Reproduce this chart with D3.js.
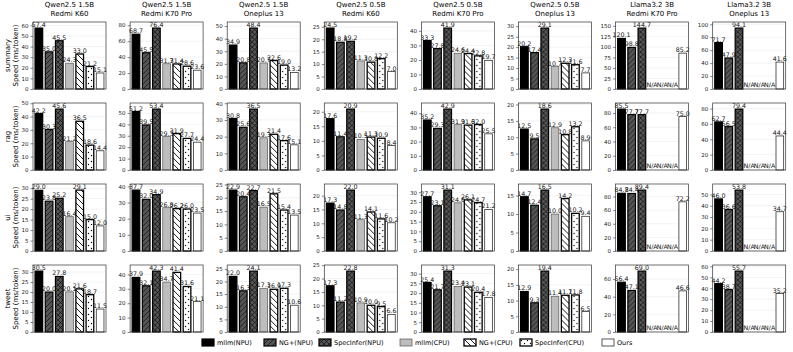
<!DOCTYPE html>
<html>
<head>
<meta charset="utf-8">
<script src="https://cdn.jsdelivr.net/npm/d3@7"></script>
<style>
  body { margin: 0; background: #fff; }
  svg { font-family: 'DejaVu Sans', sans-serif; }
</style>
</head>
<body>
<svg id="svg" width="793" height="352"></svg>
<script>
// data
const methods = ['mllm(NPU)', 'NG+(NPU)', 'SpecInfer(NPU)', 'mllm(CPU)', 'NG+(CPU)', 'SpecInfer(CPU)', 'Ours'];
const tasks = ['summary', 'rag', 'ui', 'tweet'];
const models = ['Qwen2.5 1.5B', 'Qwen2.5 1.5B', 'Qwen2.5 1.5B', 'Qwen2.5 0.5B', 'Qwen2.5 0.5B', 'Qwen2.5 0.5B', 'Llama3.2 3B', 'Llama3.2 3B'];
const devices = ['Redmi K60', 'Redmi K70 Pro', 'Oneplus 13', 'Redmi K60', 'Redmi K70 Pro', 'Oneplus 13', 'Redmi K70 Pro', 'Oneplus 13'];

const summarySpeed = [
  [57.4, 35.0, 45.5, 24.3, 33.0, 21.2, 15.1],
  [68.7, 45.5, 76.4, 31.7, 31.4, 28.6, 23.6],
  [34.9, 20.8, 48.4, 20.7, 22.6, 19.0, 13.2],
  [24.5, 18.8, 19.2, 11.3, 10.8, 12.2, 7.0],
  [33.3, 27.8, 41.9, 24.6, 24.4, 22.8, 19.7],
  [20.2, 17.4, 29.1, 10.7, 12.3, 11.6, 7.7],
  [120.1, 98.8, 144.7, null, null, null, 85.2],
  [71.7, 47.9, 94.1, null, null, null, 41.6]
];
const ragSpeed = [
  [42.2, 30.3, 45.6, 21.2, 36.5, 18.6, 14.4],
  [51.2, 39.5, 53.4, 29.3, 31.9, 27.7, 24.4],
  [30.8, 25.6, 36.5, 19.3, 21.4, 17.6, 15.1],
  [17.6, 11.4, 20.9, 10.5, 11.3, 10.9, 8.4],
  [35.2, 29.3, 42.9, 31.9, 31.6, 32.0, 25.5],
  [12.5, 9.5, 18.6, 12.9, 10.8, 13.2, 8.9],
  [85.5, 77.7, 77.7, null, null, null, 75.0],
  [62.7, 56.5, 79.4, null, null, null, 44.4]
];
const uiSpeed = [
  [29.0, 23.8, 25.2, 16.4, 29.1, 15.0, 12.0],
  [37.7, 32.0, 34.9, 26.8, 26.2, 26.0, 23.5],
  [22.9, 20.4, 22.7, 16.5, 21.5, 15.4, 13.5],
  [17.3, 14.8, 22.0, 11.3, 14.1, 11.6, 10.2],
  [27.7, 23.1, 31.1, 24.6, 26.1, 24.7, 21.2],
  [14.7, 12.4, 16.5, 10.0, 14.2, 10.2, 9.4],
  [84.7, 84.4, 89.4, null, null, null, 72.2],
  [46.0, 36.6, 53.8, null, null, null, 34.7]
];
const tweetSpeed = [
  [30.5, 20.0, 27.8, 20.1, 21.6, 18.7, 11.5],
  [37.9, 32.1, 42.3, 34.7, 41.4, 31.6, 21.1],
  [22.0, 16.3, 24.1, 17.3, 16.9, 17.3, 10.6],
  [17.3, 11.2, 22.8, 10.9, 10.0, 9.5, 6.6],
  [25.4, 21.7, 31.3, 23.4, 23.1, 20.4, 17.8],
  [12.9, 9.3, 19.4, 11.4, 11.7, 11.8, 6.5],
  [56.4, 47.1, 69.0, null, null, null, 46.6],
  [44.2, 38.7, 55.7, null, null, null, 35.2]
];

// y tick step of each panel
const summaryTickStep = [10, 20, 10, 5, 10, 5, 25, 20];
const ragTickStep = [10, 10, 10, 5, 10, 5, 20, 20];
const uiTickStep = [5, 10, 5, 5, 5, 5, 20, 10];
const tweetTickStep = [5, 10, 5, 5, 5, 5, 20, 10];

const speeds = [summarySpeed, ragSpeed, uiSpeed, tweetSpeed];
const tickSteps = [summaryTickStep, ragTickStep, uiTickStep, tweetTickStep];

const config = {
  left: 33,
  colStep: 97.1,
  panelWidth: 73,
  top: 22,
  rowStep: 81,
  panelHeight: 67
};

const svg = d3.select('#svg');
const defs = svg.append('defs');

// hatch patterns
function hatch(id, bg, draw, size) {
  const p = defs.append('pattern')
    .attr('id', id)
    .attr('patternUnits', 'userSpaceOnUse')
    .attr('width', size).attr('height', size);
  p.append('rect').attr('width', size).attr('height', size).attr('fill', bg);
  draw(p, size);
}
hatch('fwd', '#555', (p, s) => {
  p.append('path').attr('d', `M0,${s} L${s},0 M${-s/2},${s/2} L${s/2},${-s/2} M${s/2},${s*1.5} L${s*1.5},${s/2}`)
    .attr('stroke', '#000').attr('stroke-width', 0.6);
}, 5);
hatch('cross', '#555', (p, s) => {
  p.append('path').attr('d', `M0,${s} L${s},0 M0,0 L${s},${s}`)
    .attr('stroke', '#000').attr('stroke-width', 0.6);
}, 5);
hatch('back', '#fff', (p, s) => {
  p.append('path').attr('d', `M0,0 L${s},${s} M${-s/2},${s/2} L${s/2},${s*1.5} M${s/2},${-s/2} L${s*1.5},${s/2}`)
    .attr('stroke', '#000').attr('stroke-width', 0.9);
}, 6);
hatch('dots', '#fff', (p, s) => {
  p.append('circle').attr('cx', 1.5).attr('cy', 1.5).attr('r', 0.7).attr('fill', '#000');
  p.append('circle').attr('cx', 1.5 + s/2).attr('cy', 1.5 + s/2).attr('r', 0.7).attr('fill', '#000');
}, 6);

const barFill = ['#000', 'url(#fwd)', 'url(#cross)', '#bdbdbd', 'url(#back)', 'url(#dots)', '#fff'];
const barStroke = ['#000', '#000', '#000', '#555', '#000', '#000', '#333'];
const barStrokeWidth = [1.2, 1.2, 1.2, 0.7, 1.3, 1.3, 0.8];

const xScale = d3.scaleBand()
  .domain(d3.range(methods.length))
  .range([0, config.panelWidth])
  .paddingInner(0.25)
  .paddingOuter(0.2);

tasks.forEach((task, r) => {
  const top = config.top + r * config.rowStep;

  // row label
  const cy = top + config.panelHeight / 2;
  const lab = svg.append('text')
    .attr('transform', `translate(10,${cy}) rotate(-90)`)
    .attr('text-anchor', 'middle')
    .style('font-size', '7px');
  lab.append('tspan').attr('x', 0).attr('dy', 0).text(task);
  lab.append('tspan').attr('x', 0).attr('dy', 8).text('Speed (ms/token)');

  models.forEach((model, c) => {
    const values = speeds[r][c];
    const step = tickSteps[r][c];
    const left = config.left + c * config.colStep;
    const g = svg.append('g').attr('transform', `translate(${left},${top})`);

    const yMax = d3.max(values) * 1.1;
    const yScale = d3.scaleLinear().domain([0, yMax]).range([config.panelHeight, 0]);
    const ticks = d3.range(0, yMax + 1e-9, step);

    // grid
    g.selectAll('.grid').data(ticks).join('line')
      .attr('class', 'grid')
      .attr('x1', 0).attr('x2', config.panelWidth)
      .attr('y1', d => yScale(d)).attr('y2', d => yScale(d))
      .attr('stroke', '#e6e6e6').attr('stroke-width', 0.5);

    const yAxis = d3.axisLeft(yScale).tickValues(ticks).tickSize(2.5).tickPadding(2).tickFormat(d3.format('d'));
    const yAxisG = g.append('g').call(yAxis);
    yAxisG.select('path.domain').remove();
    yAxisG.selectAll('line').attr('stroke', '#333').attr('stroke-width', 0.6);
    yAxisG.selectAll('text').style('font-size', '5.5px').style('font-family', 'DejaVu Sans').attr('fill', '#222');

    const bars = values.map((v, i) => ({ v, i }));

    g.selectAll('.bar').data(bars.filter(d => d.v != null)).join('rect')
      .attr('class', 'bar')
      .attr('x', d => xScale(d.i))
      .attr('y', d => yScale(d.v))
      .attr('width', xScale.bandwidth())
      .attr('height', d => config.panelHeight - yScale(d.v))
      .attr('fill', d => barFill[d.i])
      .attr('stroke', d => barStroke[d.i])
      .attr('stroke-width', d => barStrokeWidth[d.i]);

    g.selectAll('.val').data(bars).join('text')
      .attr('class', 'val')
      .attr('x', d => xScale(d.i) + xScale.bandwidth() / 2)
      .attr('y', d => d.v == null ? config.panelHeight - 2.5 : yScale(d.v) - 1)
      .attr('text-anchor', 'middle')
      .style('font-size', '6.3px')
      .attr('fill', '#111')
      .text(d => d.v == null ? 'N/A' : d.v.toFixed(1));

    // frame
    g.append('rect')
      .attr('width', config.panelWidth).attr('height', config.panelHeight)
      .attr('fill', 'none').attr('stroke', '#333').attr('stroke-width', 0.7);

    if (r === 0) {
      g.append('text').attr('x', config.panelWidth / 2).attr('y', -15)
        .attr('text-anchor', 'middle').style('font-size', '7px').text(model);
      g.append('text').attr('x', config.panelWidth / 2).attr('y', -6)
        .attr('text-anchor', 'middle').style('font-size', '7px').text(devices[c]);
    }
  });
});

// legend
const legendX = [202, 264, 319, 400, 464, 520, 602];
const legend = svg.append('g').attr('transform', 'translate(0,339)');
methods.forEach((m, i) => {
  const item = legend.append('g').attr('transform', `translate(${legendX[i]},0)`);
  item.append('rect')
    .attr('width', 12).attr('height', 7)
    .attr('fill', barFill[i]).attr('stroke', barStroke[i]).attr('stroke-width', barStrokeWidth[i]);
  item.append('text').attr('x', 15).attr('y', 6).style('font-size', '6.5px').text(m);
});
</script>
</body>
</html>
